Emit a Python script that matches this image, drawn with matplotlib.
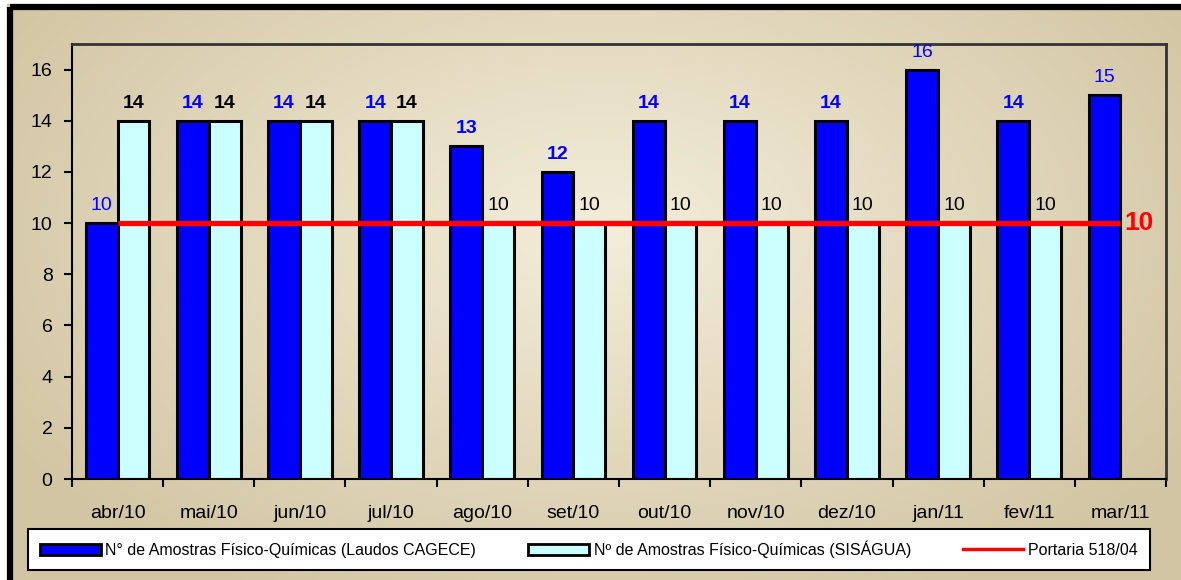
import numpy as np
import matplotlib
matplotlib.use("Agg")
import matplotlib.pyplot as plt
from matplotlib.patches import Rectangle, Patch
from matplotlib.lines import Line2D

plt.rcParams['font.family'] = ['Liberation Sans', 'DejaVu Sans']

months = ['abr/10', 'mai/10', 'jun/10', 'jul/10', 'ago/10', 'set/10',
          'out/10', 'nov/10', 'dez/10', 'jan/11', 'fev/11', 'mar/11']
laudos = [10, 14, 14, 14, 13, 12, 14, 14, 14, 16, 14, 15]
sisagua = [14, 14, 14, 14, 10, 10, 10, 10, 10, 10, 10, np.nan]
portaria = [10] * 12
laudos_bold = [False, True, True, True, True, True, True, True, True, False, True, False]

W, H = 1181, 580
fig = plt.figure(figsize=(W / 100, H / 100), dpi=100)

# beige radial gradient background inside the outer frame
bg = fig.add_axes([0, 0, 1, 1], zorder=-10)
yy, xx = np.mgrid[0:H, 0:W]
r = np.sqrt(((xx - 600) / 700.0) ** 2 + ((yy - 230) / 420.0) ** 2)
r = np.clip(r, 0, 1)
light = np.array([0xF3, 0xED, 0xDA]) / 255
dark = np.array([0xD2, 0xC5, 0xA3]) / 255
img = light[None, None, :] * (1 - r[..., None]) + dark[None, None, :] * r[..., None]
img[:4, :, :] = 1
img[:, :7, :] = 1
bg.imshow(img, extent=[0, W, H, 0], aspect='auto', interpolation='bilinear')
bg.set_xlim(0, W)
bg.set_ylim(H, 0)
bg.axis('off')
bg.add_patch(Rectangle((9.5, 6.5), W + 20, H + 20, fill=False, ec='black', lw=4.5))

ax = fig.add_axes([72 / W, 1 - 479 / H, (1166 - 72) / W, (479 - 44) / H])
ax.patch.set_alpha(0)

x = np.arange(len(months))
bw = 0.35
ax.bar(x - bw / 2, laudos, bw, color='#0000FF', edgecolor='black', linewidth=2.2, zorder=2)
ax.bar(x + bw / 2, sisagua, bw, color='#CCFFFF', edgecolor='black', linewidth=2.2, zorder=2)
ax.plot(x, portaria, color='#FF0000', lw=3.8, zorder=3, solid_capstyle='butt')

for i in range(len(months)):
    ax.text(x[i] - bw / 2, laudos[i] + 0.35, str(laudos[i]), ha='center', va='bottom',
            color='#0000FF', fontsize=14, fontweight='bold' if laudos_bold[i] else 'normal')
    if not np.isnan(sisagua[i]):
        v = int(sisagua[i])
        ax.text(x[i] + bw / 2, v + 0.35, str(v), ha='center', va='bottom',
                color='black', fontsize=14, fontweight='bold' if v == 14 else 'normal')
ax.text(x[-1] + 0.04, portaria[-1], '10', color='#FF0000', fontsize=19,
        fontweight='bold', ha='left', va='center')

ax.set_xlim(-0.5, len(months) - 0.5)
ax.set_ylim(0, 17)
ax.set_yticks(range(0, 17, 2))
ax.set_xticks(x)
ax.set_xticklabels(months, fontsize=14)
ax.set_xticks(np.arange(-0.5, len(months)), minor=True)
ax.tick_params(axis='x', which='major', length=0, pad=19)
ax.tick_params(axis='x', which='minor', length=6, width=1.5, direction='out')
ax.tick_params(axis='y', length=6, width=1.5, direction='out', labelsize=14, pad=8)
for s in ['left', 'bottom']:
    ax.spines[s].set_color('black')
    ax.spines[s].set_linewidth(1.5)
for s in ['top', 'right']:
    ax.spines[s].set_color('#333333')
    ax.spines[s].set_linewidth(2)

handles = [Patch(facecolor='#0000FF', edgecolor='black', linewidth=2),
           Patch(facecolor='#CCFFFF', edgecolor='black', linewidth=2),
           Line2D([0], [0], color='#FF0000', lw=2.5)]
labels = ['N° de Amostras Físico-Químicas (Laudos CAGECE)',
          'Nº de Amostras Físico-Químicas (SISÁGUA)',
          'Portaria 518/04']
leg = fig.legend(handles, labels, ncol=3, mode='expand', loc='lower left',
                 bbox_to_anchor=(20 / W, 2 / H, (1158 - 20) / W, 46 / H),
                 fontsize=11.5, frameon=True, fancybox=False, handlelength=3.8,
                 handleheight=0.7, handletextpad=0.3, borderpad=0.75)
leg.get_frame().set_edgecolor('black')
leg.get_frame().set_linewidth(1.5)
leg.get_frame().set_facecolor('white')
leg.get_frame().set_alpha(1)

fig.savefig('out.png', dpi=100)
